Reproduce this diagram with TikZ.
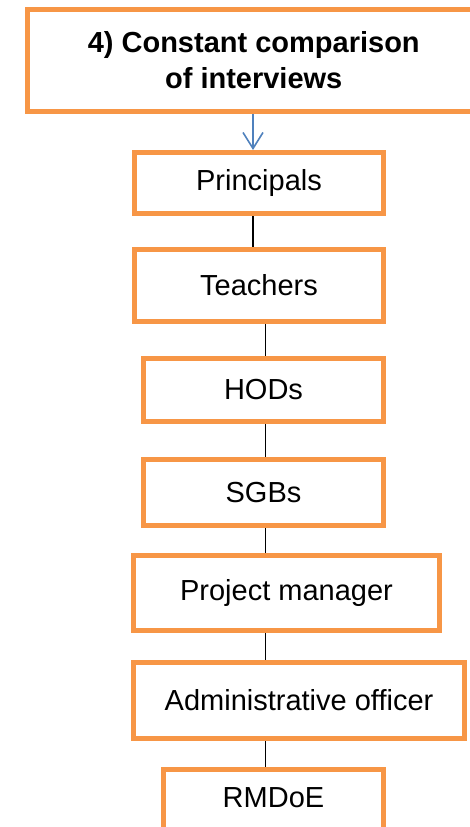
\documentclass[tikz,border=0pt]{standalone}
\usepackage{fontspec}
\setmainfont{Liberation Sans}
\usetikzlibrary{arrows.meta}
\definecolor{boxorange}{HTML}{F79646}
\definecolor{arrowblue}{HTML}{4F81BD}
\begin{document}
\begin{tikzpicture}[x=1pt,y=1pt,
  stepbox/.style={draw=boxorange, line width=5pt, fill=white, rectangle, inner sep=0pt,
    font=\fontsize{29}{35}\selectfont, text=black},
  link/.style={draw=black, line width=1.3pt}]
\useasboundingbox (0,0) rectangle (470,-827);
\clip (0,0) rectangle (470,-827);
\node[stepbox, minimum width=452.5pt, minimum height=102pt, align=center, font=\fontsize{29}{36}\selectfont\bfseries]
  (top) at (253.75,-60.5) {4) Constant comparison\\of interviews};
\node[stepbox, minimum width=249pt, minimum height=61pt] (prin) at (259,-183) {Principals};
\node[stepbox, minimum width=249pt, minimum height=72pt] (teach) at (259,-285.5) {Teachers};
\node[stepbox, minimum width=240pt, minimum height=63pt] (hod) at (263.5,-390) {HODs};
\node[stepbox, minimum width=240pt, minimum height=66pt] (sgb) at (263.5,-492.5) {SGBs};
\node[stepbox, minimum width=306pt, minimum height=75pt] (pm) at (286.5,-593) {Project manager};
\node[stepbox, minimum width=331pt, minimum height=76pt] (adm) at (299,-700.5) {Administrative officer};
\node[stepbox, minimum width=220pt, minimum height=66pt, text depth=0pt] (rm) at (273.5,-802.5) {};
\node[font=\fontsize{29}{35}\selectfont, inner sep=0pt] (rmtext) at (273.5,-798) {RMDoE};
\coordinate (xa) at (253,0);
\coordinate (xb) at (265.5,0);
\draw[draw=arrowblue, line width=1.6pt, -{Straight Barb[length=16pt,width=20pt,line width=1.6pt]}]
  (top.south -| xa) -- (prin.north -| xa);
\draw[link] (prin.south -| xa) -- (teach.north -| xa);
\draw[link] (teach.south -| xb) -- (hod.north -| xb);
\draw[link] (hod.south -| xb) -- (sgb.north -| xb);
\draw[link] (sgb.south -| xb) -- (pm.north -| xb);
\draw[link] (pm.south -| xb) -- (adm.north -| xb);
\draw[link] (adm.south -| xb) -- (rm.north -| xb);
\end{tikzpicture}
\end{document}
